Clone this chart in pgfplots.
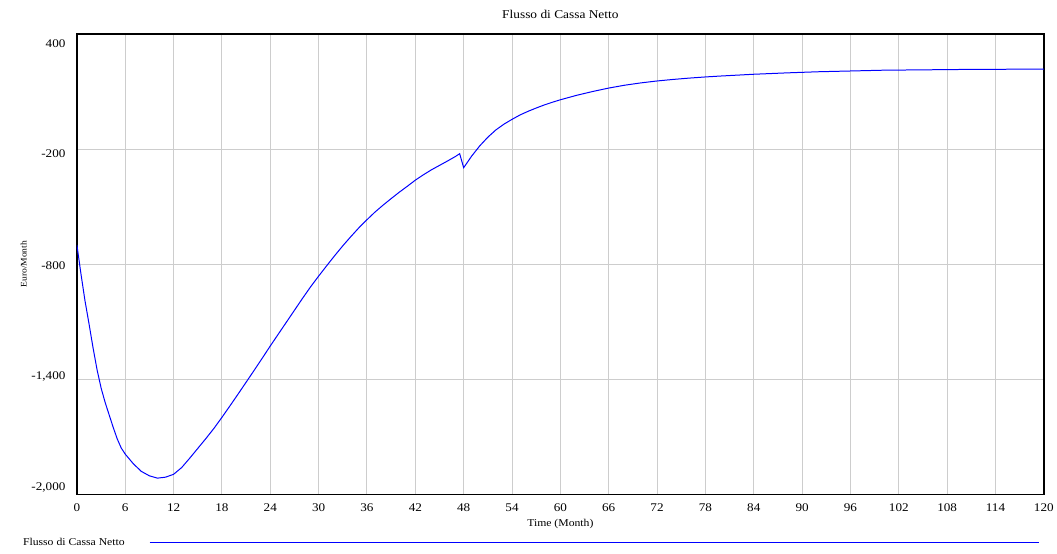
\documentclass[border=0pt]{standalone}
\usepackage{fontspec}
\setmainfont{Liberation Serif}[FakeStretch=1.12]
\usepackage{pgfplots}
\pgfplotsset{compat=1.18}
\definecolor{gridgray}{RGB}{205,205,205}
\newcommand{\yl}[2]{\raisebox{#1}[0pt][0pt]{#2}}
\begin{document}
\begin{tikzpicture}
\path (0,0) rectangle (1057bp,554bp);
\begin{axis}[
  scale only axis,
  width=968bp, height=461bp,
  at={(77bp,59bp)}, anchor=south west,
  xmin=0, xmax=120, ymin=-2000, ymax=400,
  xtick={0,6,...,120},
  ytick={-2000,-1400,-800,-200,400},
  yticklabels={{\yl{4.4bp}{-2,000}},{\yl{-0.6bp}{-1,400}},{\yl{-5.1bp}{-800}},{\yl{-8.6bp}{-200}},{\yl{-13.6bp}{400}}},
  /pgf/number format/assume math mode=true,
  tick style={draw=none},
  grid=major,
  major grid style={gridgray, line width=1bp},
  axis line style={black, line width=1.5bp},
  ticklabel style={font=\fontsize{11.8}{12}\selectfont},
  xticklabel style={yshift=-6bp},
  yticklabel style={xshift=-8bp},
  title={Flusso di Cassa Netto},
  title style={font=\fontsize{12}{13}\selectfont, yshift=6bp},
  xlabel={Time (Month)},
  xlabel style={font=\fontsize{10.5}{12}\selectfont, yshift=-1bp},
  ylabel={Euro/Month},
  ylabel style={font=\fontsize{8.6}{10}\selectfont, yshift=-2bp},
  legend plot pos=right,
  legend image code/.code={\path[draw=none,fill=none] (0bp,-1bp) -- (0bp,1bp);\draw[#1] (23bp,0bp) -- (913bp,0bp);},
  legend style={draw=none, fill=none, at={(-0.058,-0.104)}, anchor=west,
    font=\fontsize{10.5}{12}\selectfont, inner sep=0pt},
]
\addplot[blue, line width=1bp] coordinates {
(0,-700) (0.5,-850) (1,-990) (1.5,-1110) (2,-1235) (2.5,-1350) (3,-1445) (3.5,-1520)
(4,-1585) (4.5,-1650) (5,-1710) (5.5,-1758) (6,-1790) (7,-1840) (8,-1880) (9,-1903)
(10,-1915) (11,-1910) (12,-1895) (13,-1860) (14,-1811) (15,-1760) (16,-1709) (17,-1656)
(18,-1598) (19,-1538) (20,-1477) (21,-1415) (22,-1353) (23,-1290) (24,-1226) (25,-1164)
(26,-1102) (27,-1040) (28,-978) (29,-918) (30,-862) (31,-808) (32,-755) (33,-704)
(34,-656) (35,-610) (36,-568) (37,-528) (38,-492) (39,-458) (40,-425) (41,-394)
(42,-362) (43,-334) (44,-308) (45,-285) (46,-262) (47,-238) (47.5,-224) (48,-297)
(49,-236) (50,-183) (51,-138) (52,-100) (53,-70) (54,-45) (55,-22) (56,-3)
(57,14) (58,30) (59,44) (60,57) (62,80) (64,100) (66,118) (68,133) (70,145)
(72,155) (74,163) (76,170) (78,176) (80,181) (84,190) (88,197) (92,203) (96,207)
(100,211) (105,213) (110,215) (115,216) (120,217)
};
\addlegendentry{Flusso di Cassa Netto}
\end{axis}
\end{tikzpicture}
\end{document}
